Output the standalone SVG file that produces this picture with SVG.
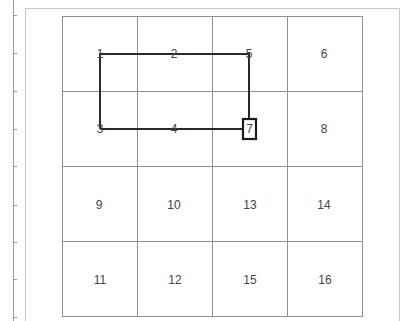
<svg xmlns="http://www.w3.org/2000/svg" width="402" height="321" viewBox="0 0 402 321">
<style>
.frame{fill:none;stroke:#c8c8c8;stroke-width:1}
.grid{fill:none;stroke:#8f8f8f;stroke-width:1}
.tick{stroke:#9a9a9a;stroke-width:1}
.lbl{font-family:"Liberation Sans",Arial,sans-serif;font-size:12px;fill:#444;text-anchor:middle;dominant-baseline:central}
.path{fill:none;stroke:#2a2a2a;stroke-width:2}
.box{fill:#fff;stroke:#1a1a1a;stroke-width:2.2}
</style>
<rect width="402" height="321" fill="#fff"/>
<g id="frame">
<path class="frame" d="M25.5,322 V8.5 H399.5 V322"/>
<line class="tick" x1="13.5" y1="0" x2="13.5" y2="321"/>
<g class="tick">
<line x1="13" y1="15.5" x2="17" y2="15.5"/><line x1="13" y1="53.5" x2="17" y2="53.5"/><line x1="13" y1="91.5" x2="17" y2="91.5"/><line x1="13" y1="129.5" x2="17" y2="129.5"/><line x1="13" y1="166.5" x2="17" y2="166.5"/><line x1="13" y1="205.5" x2="17" y2="205.5"/><line x1="13" y1="242.5" x2="17" y2="242.5"/><line x1="13" y1="279.5" x2="17" y2="279.5"/><line x1="13" y1="317.5" x2="17" y2="317.5"/>
</g>
</g>
<g id="grid">
<rect class="grid" x="62.5" y="16.5" width="300" height="300"/>
<line class="grid" x1="137.5" y1="16.5" x2="137.5" y2="316.5"/>
<line class="grid" x1="212.5" y1="16.5" x2="212.5" y2="316.5"/>
<line class="grid" x1="287.5" y1="16.5" x2="287.5" y2="316.5"/>
<line class="grid" x1="62.5" y1="91.5" x2="362.5" y2="91.5"/>
<line class="grid" x1="62.5" y1="166.5" x2="362.5" y2="166.5"/>
<line class="grid" x1="62.5" y1="241.5" x2="362.5" y2="241.5"/>
</g>
<g id="connectors">
<path class="path" d="M100,129 V54 H249 V119 M243,129 H100"/>
</g>
<g id="node-7"><rect class="box" x="243" y="119" width="13" height="20"/><text class="lbl" x="249.5" y="129">7</text></g>
<g id="node-1"><text class="lbl" x="100" y="54">1</text></g>
<g id="node-2"><text class="lbl" x="174" y="54">2</text></g>
<g id="node-5"><text class="lbl" x="249" y="54">5</text></g>
<g id="node-6"><text class="lbl" x="324" y="54">6</text></g>
<g id="node-3"><text class="lbl" x="100" y="129">3</text></g>
<g id="node-4"><text class="lbl" x="174" y="129">4</text></g>
<g id="node-8"><text class="lbl" x="324" y="129">8</text></g>
<g id="node-9"><text class="lbl" x="99" y="205">9</text></g>
<g id="node-10"><text class="lbl" x="174" y="205">10</text></g>
<g id="node-13"><text class="lbl" x="250" y="205">13</text></g>
<g id="node-14"><text class="lbl" x="324" y="205">14</text></g>
<g id="node-11"><text class="lbl" x="100" y="280">11</text></g>
<g id="node-12"><text class="lbl" x="175" y="280">12</text></g>
<g id="node-15"><text class="lbl" x="250" y="280">15</text></g>
<g id="node-16"><text class="lbl" x="325" y="280">16</text></g>
</svg>
